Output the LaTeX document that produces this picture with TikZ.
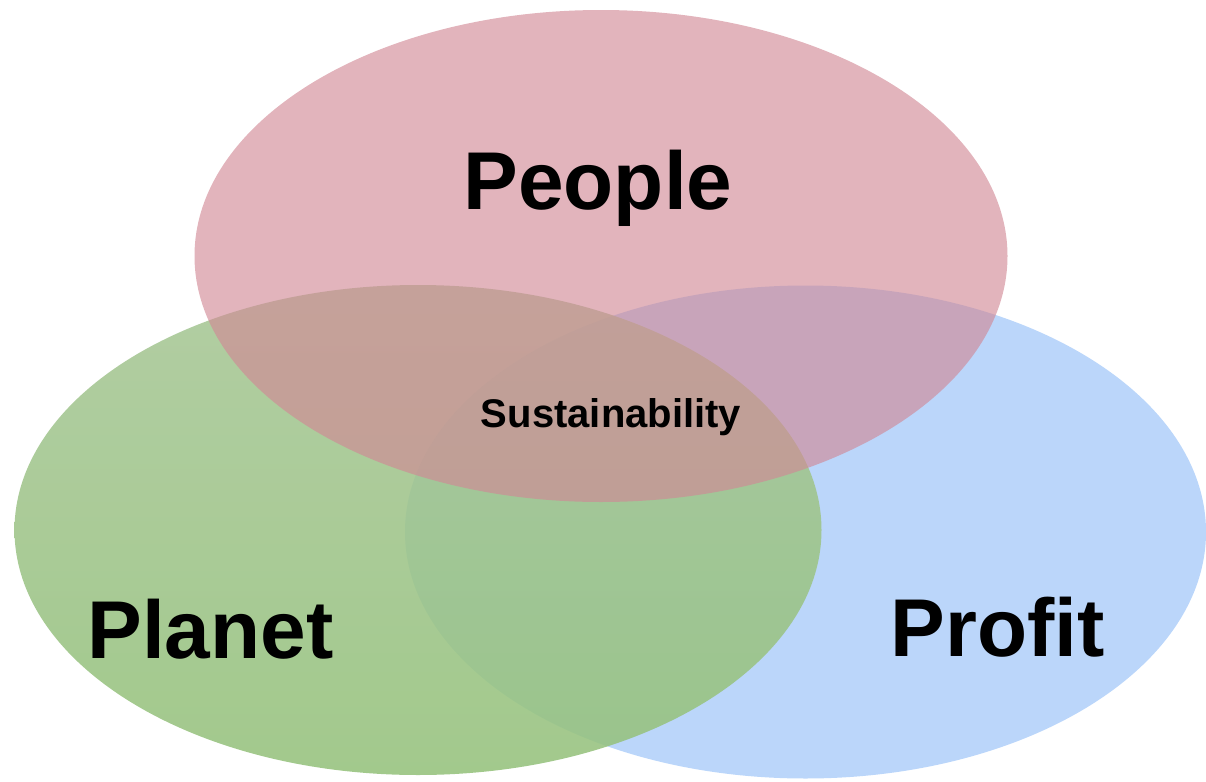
\documentclass[tikz,border=0pt]{standalone}
\usepackage{fontspec}
\setmainfont{Liberation Sans}
\usetikzlibrary{shapes.geometric}
\definecolor{peoplecol}{RGB}{209,136,149}
\definecolor{planettop}{RGB}{167,198,150}
\definecolor{planetbot}{RGB}{149,194,124}
\definecolor{profitcol}{RGB}{187,214,250}
\pgfkeys{tikz/myellipse/.style={ellipse,inner sep=0pt,draw=none}}
\pgfkeys{tikz/mylabel/.style={font=\fontsize{41}{45}\selectfont\bfseries,anchor=base}}
\pgfkeys{tikz/mysmall/.style={font=\fontsize{20}{24}\selectfont\bfseries,anchor=base}}

\begin{document}
\begin{tikzpicture}
    \useasboundingbox (0,0) rectangle (603pt,-391pt);
    % the three circles
    \node[myellipse, fill=profitcol, minimum width=400.5pt, minimum height=246.5pt] (profit) at (402.75pt,-266pt) {};
    \node[myellipse, top color=planettop, bottom color=planetbot, fill opacity=0.88, minimum width=403.5pt, minimum height=245pt] (planet) at (209pt,-265pt) {};
    \node[myellipse, fill=peoplecol, fill opacity=0.63, minimum width=406.5pt, minimum height=246pt] (people) at (300.5pt,-128pt) {};
    % labels
    \node[mylabel] (lpeople) at (299pt,-104.5pt) {People};
    \node[mylabel] (lplanet) at (105.25pt,-329pt) {Planet};
    \node[mylabel] (lprofit) at (498.75pt,-328pt) {Profit};
    \node[mysmall] (lsust) at (305.5pt,-213.5pt) {Sustainability};
\end{tikzpicture}
\end{document}
